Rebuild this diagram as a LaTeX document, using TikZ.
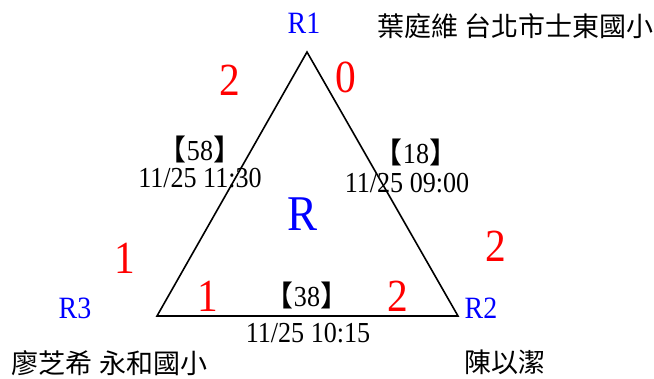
\documentclass[tikz,border=0pt]{standalone}
\usepackage{fontspec}
\setmainfont{Liberation Serif}[FakeStretch=0.9]
\newfontfamily\cjk{Noto Sans CJK TC}
\begin{document}
\begin{tikzpicture}[x=1pt,y=-1pt,
  every node/.style={inner sep=0pt,outer sep=0pt},
  vlabel/.style={text=blue,font=\fontsize{31}{31}\selectfont},
  cnt/.style={text=red,font=\fontsize{46}{46}\selectfont},
  rec/.style={font=\fontsize{29}{29}\selectfont},
  dt/.style={font=\fontsize{29}{29}\selectfont,anchor=base},
  pname/.style={font=\cjk\fontsize{27}{27}\selectfont}]
\useasboundingbox (0,0) rectangle (654,378);
\fill[white] (0,0) rectangle (654,378);
% triangle
\coordinate (A) at (307,52);
\coordinate (B) at (157,316);
\coordinate (C) at (458,316);
\draw[line width=1.6pt,line join=miter] (A) -- (C) -- (B) -- cycle;
% vertex labels
\node[vlabel] (r1) at (304,23) {R1};
\node[vlabel] (r2) at (481,308) {R2};
\node[vlabel] (r3) at (75,308) {R3};
\node[text=blue,font=\fontsize{50}{50}\selectfont] (r) at (303,214) {R};
% names
\node[pname,anchor=west] (n1) at (377,26) {葉庭維 台北市士東國小};
\node[pname,anchor=west] (n3) at (12,363) {廖芝希 永和國小};
\node[pname] (n2) at (505,362) {陳以潔};
% counts
\node[cnt] (c1) at (230,80) {2};
\node[cnt] (c2) at (346,77) {0};
\node[cnt] (c3) at (125,258) {1};
\node[cnt] (c4) at (496,246) {2};
\node[cnt] (c5) at (208,296) {1};
\node[cnt] (c6) at (398,296) {2};
% records
\node[rec] (s1) at (200,149) {{\cjk 【}58{\cjk 】}};
\node[dt] (d1) at (200,187) {11/25 11:30};
\node[rec] (s2) at (416,152) {{\cjk 【}18{\cjk 】}};
\node[dt] (d2) at (407,192) {11/25 09:00};
\node[rec] (s3) at (307,295) {{\cjk 【}38{\cjk 】}};
\node[dt] (d3) at (308,342) {11/25 10:15};
\end{tikzpicture}
\end{document}
